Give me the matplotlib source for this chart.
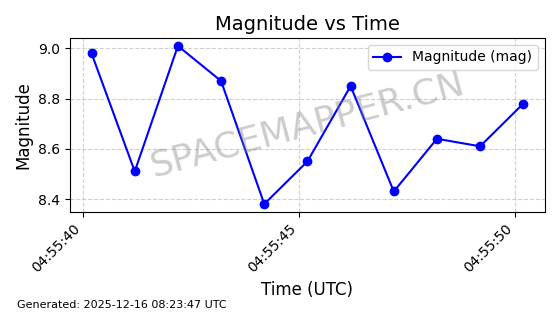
import datetime as dt
import matplotlib
matplotlib.use('Agg')
import matplotlib.pyplot as plt
import matplotlib.dates as mdates

t0 = dt.datetime(2025, 12, 16, 4, 55, 40, 200000)
offsets_s = [0, 1, 2, 3, 4, 5, 6, 7, 8, 9, 10]
magnitudes = [8.98, 8.51, 9.01, 8.87, 8.38, 8.55, 8.85, 8.43, 8.64, 8.61, 8.78]
times = [t0 + dt.timedelta(seconds=s) for s in offsets_s]


def main():
    fig = plt.figure(figsize=(5.6, 3.14), dpi=100)
    ax = fig.add_axes([0.125, 0.325, 0.848, 0.554])
    ax.plot(times, magnitudes, 'o-', color='blue', markersize=6, label='Magnitude (mag)')
    ax.set_title('Magnitude vs Time', fontsize=14)
    ax.set_xlabel('Time (UTC)', fontsize=12)
    ax.set_ylabel('Magnitude', fontsize=12)
    ax.grid(True, linestyle='--', alpha=0.6)
    ax.xaxis.set_major_locator(mdates.SecondLocator(bysecond=range(0, 60, 5)))
    ax.xaxis.set_major_formatter(mdates.DateFormatter('%H:%M:%S'))
    ax.set_yticks([8.4, 8.6, 8.8, 9.0])
    plt.setp(ax.get_xticklabels(), rotation=45, ha='right')
    ax.legend(loc='upper right')

    ax.text(0.5, 0.5, 'SPACEMAPPER.CN', transform=ax.transAxes, fontsize=26,
            color='gray', alpha=0.4, ha='center', va='center', rotation=15)
    fig.text(0.03, 0.02, 'Generated: 2025-12-16 08:23:47 UTC', fontsize=8)

    fig.savefig('out.png', dpi=100)


if __name__ == '__main__':
    main()
